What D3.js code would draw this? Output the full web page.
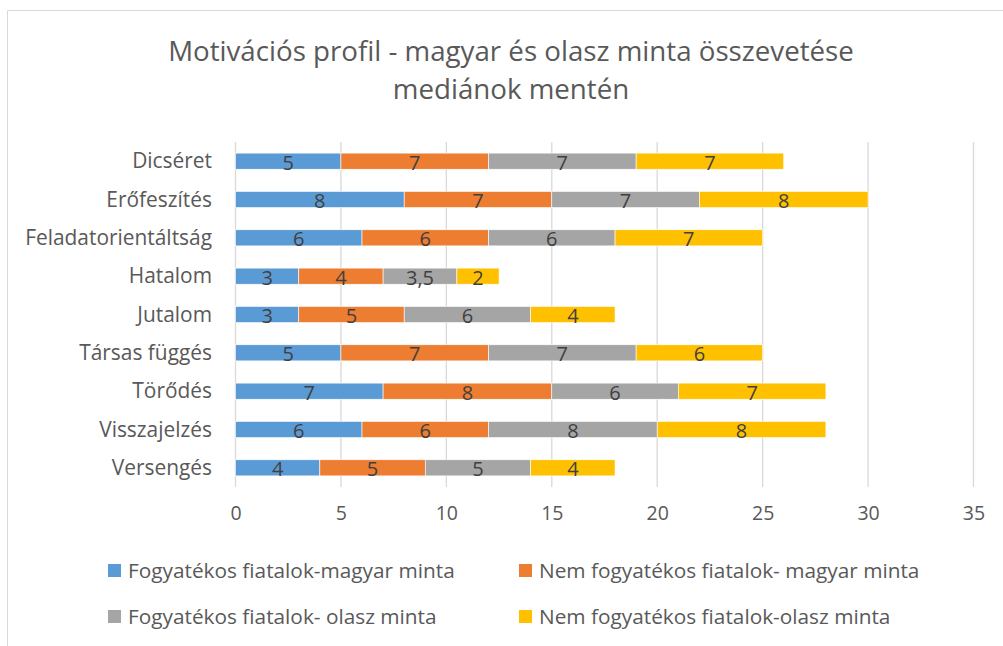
<!DOCTYPE html>
<html><head><meta charset="utf-8">
<script src="https://cdn.jsdelivr.net/npm/d3@7"></script>
<style>body{margin:0;background:#fff}svg{display:block}text{font-family:"Open Sans",sans-serif}</style>
</head><body><svg id="c" width="1003" height="646"></svg>
<script>
const categories = ["Dicséret","Erőfeszítés","Feladatorientáltság","Hatalom","Jutalom","Társas függés","Törődés","Visszajelzés","Versengés"];
const seriesNames = ["Fogyatékos fiatalok-magyar minta","Nem fogyatékos fiatalok- magyar minta","Fogyatékos fiatalok- olasz minta","Nem fogyatékos fiatalok-olasz minta"];
const huDisabled = [5,8,6,3,3,5,7,6,4];
const huNonDisabled = [7,7,6,4,5,7,8,6,5];
const itDisabled = [7,7,6,3.5,6,7,6,8,5];
const itNonDisabled = [7,8,7,2,4,6,7,8,4];
const xTicks = [0,5,10,15,20,25,30,35];
const colors = ["#5B9BD5","#ED7D31","#A5A5A5","#FFC000"];

const svg = d3.select("#c");
const W=1003,H=646;
svg.append("path").attr("d",`M7.5,${H}V10.5H${W}`).attr("fill","none").attr("stroke","#D9D9D9").attr("stroke-width",1);

svg.append("text").attr("x",511).attr("y",61).attr("text-anchor","middle").attr("font-size",27.7).attr("fill","#595959").text("Motivációs profil - magyar és olasz minta összevetése");
svg.append("text").attr("x",511).attr("y",99).attr("text-anchor","middle").attr("font-size",27.7).attr("fill","#595959").text("mediánok mentén");

const x = d3.scaleLinear().domain([0,35]).range([235.5,973.5]);
const y = d3.scaleBand().domain(categories).range([142,487]).paddingInner(0.58).paddingOuter(0.29);

const g = svg.append("g");
g.selectAll("line.grid").data(xTicks).join("line").attr("class","grid")
 .attr("x1",d=>x(d)).attr("x2",d=>x(d)).attr("y1",142).attr("y2",487)
 .attr("stroke","#D9D9D9").attr("stroke-width",1.3);

const rows = categories.map((c,i)=>({cat:c, vals:[huDisabled[i],huNonDisabled[i],itDisabled[i],itNonDisabled[i]]}));
const stack = d3.stack().keys([0,1,2,3]).value((d,k)=>d.vals[k])(rows);

stack.forEach((layer,k)=>{
  const lg = g.append("g");
  lg.selectAll("rect").data(layer).join("rect")
    .attr("x",d=>x(d[0])).attr("width",d=>x(d[1])-x(d[0]))
    .attr("y",d=>y(d.data.cat)).attr("height",y.bandwidth())
    .attr("fill",colors[k]).attr("stroke","#fff").attr("stroke-width",0.6);
  lg.selectAll("text").data(layer).join("text")
    .attr("x",d=>(x(d[0])+x(d[1]))/2).attr("y",d=>y(d.data.cat)+y.bandwidth()+0.5)
    .attr("text-anchor","middle").attr("font-size",20).attr("fill","#404040")
    .text(d=>String(d.data.vals[k]).replace(".",","));
});

// category axis
const ya = svg.append("g").attr("transform","translate(212,0)")
  .call(d3.axisLeft(y).tickSize(0).tickPadding(0));
ya.select(".domain").remove();
ya.selectAll("text").attr("font-size",20.9).attr("fill","#595959").attr("font-family","Open Sans").attr("dy","0.35em");

const xa = svg.append("g").attr("transform","translate(0,500)")
  .call(d3.axisBottom(x).tickValues(xTicks).tickSize(0).tickPadding(0));
xa.select(".domain").remove();
xa.selectAll("text").attr("font-size",19.5).attr("fill","#595959").attr("font-family","Open Sans").attr("dy","1.0em");

// legend
const legPos = [[108,571],[519,571],[108,617],[519,617]];
seriesNames.forEach((n,i)=>{
  const [lx,ly]=legPos[i];
  svg.append("rect").attr("x",lx).attr("y",ly-7).attr("width",13).attr("height",13).attr("fill",colors[i]);
  svg.append("text").attr("x",lx+20).attr("y",ly+7).attr("font-size",20.8).attr("fill","#595959").text(n);
});
</script></body></html>
